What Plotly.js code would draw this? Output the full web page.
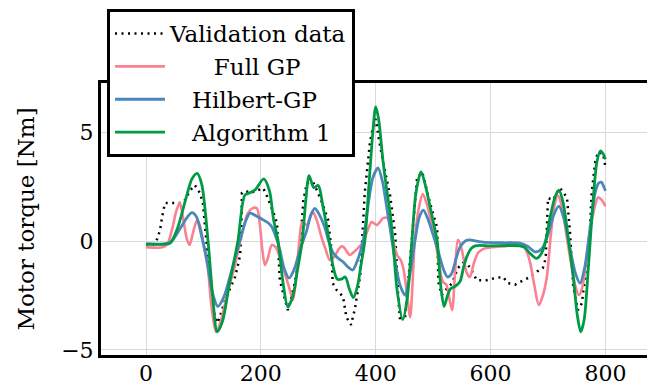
<!DOCTYPE html>
<html>
<head>
<meta charset="utf-8">
<script src="https://cdn.plot.ly/plotly-3.0.1.min.js"></script>
<style>html,body{margin:0;padding:0;background:#fff;overflow:hidden;}#chart{width:647px;height:389px;}</style>
</head>
<body>
<div id="chart"></div>
<script>
const seriesNames = ["Validation data", "Full GP", "Hilbert-GP", "Algorithm 1"];
const xTicks = [0, 200, 400, 600, 800];
const yTicks = [-5, 0, 5];

const valX = [0,15,21,25,28,33,45,55,62,68,77,85,94,99,102,106,111,116,120,125,132,138,146,155,162,164,166,167,174,181,192,204,210,216,222,228,230,233,239,247,253,259,268,271,274,280,291,298,306,317,320,323,325,332,343,349,357,364,373,377,381,386,390,395,400,406,413,425,434,439,442,451,457,463,468,472,481,494,507,509,515,520,524,533,543,552,558,564,576,593,608,622,630,643,657,669,681,691,696,698,700,709,715,721,733,738,742,744,752,759,764,770,773,776,782,787,796,800];
const valY = [-0.15,-0.15,0.18,0.6,1.1,1.74,1.74,1.74,1.74,1.88,2.33,2.57,2.2,1.74,0.8,-0.1,-1.65,-2.7,-3.5,-3.76,-3.2,-2.7,-2.2,-1.65,-0.9,-0.55,0.5,2.2,2.3,2.2,2.3,2.43,2.1,1.74,1.3,0.83,-0.41,-1.8,-2.4,-3.17,-2.6,-1.93,-0.41,0.7,1.88,2.65,2.7,2.3,1.8,0.97,0.3,-0.41,-1.93,-2.25,-2.55,-3.5,-3.85,-3.08,-1.56,0.3,2.25,3.5,4.55,5.18,5.6,4.6,3.6,2.1,0.28,-2.48,-3.53,-3.53,-1.8,0.0,1.6,2.9,3.17,1.8,0.6,-1.88,-2.48,-2.3,-2.17,-1.93,-1.24,-1.0,-1.05,-1.2,-1.8,-1.8,-1.7,-1.65,-1.93,-2.0,-1.8,-1.65,-1.4,-1.24,-0.8,0.3,1.97,1.88,2.2,2.43,2.0,0.5,-1.0,-2.1,-3.17,-2.85,-1.8,-0.3,0.5,2.2,3.58,4.08,4.0,3.4];

const fullX = [0,30,38,46,53,59,65,71,76,82,89,95,101,108,114,122,130,143,154,164,170,176,185,193,198,203,207,212,219,226,235,243,250,256,262,267,272,280,286,291,298,306,313,320,327,335,340,345,350,355,362,370,378,386,393,402,408,413,421,428,437,444,448,454,460,464,468,475,482,490,497,503,510,517,523,528,533,538,543,548,553,559,564,571,578,586,593,620,656,663,669,676,684,691,698,705,711,717,724,732,740,748,754,760,767,773,780,787,793,800];
const fullY = [-0.28,-0.28,-0.1,0.6,1.4,1.74,1.0,0.1,-0.18,0.4,0.96,0.6,-0.3,-1.33,-3.0,-4.17,-3.7,-2.25,-1.2,0.0,0.6,1.2,1.5,1.5,0.8,-0.5,-1.1,-0.8,-0.18,-0.3,-0.9,-1.6,-2.2,-2.7,-1.5,0.0,0.87,0.73,1.1,1.33,0.9,0.14,-0.4,-0.87,-0.75,-0.4,-0.25,-0.3,-0.5,-0.64,-0.5,-0.3,-0.05,0.5,0.87,0.73,0.9,1.05,1.05,0.3,-0.64,-0.9,-1.24,-2.3,-3.5,-2.0,0.0,1.5,2.15,1.6,0.8,0.14,-1.0,-1.88,-2.0,-2.6,-3.17,-1.5,0.05,-0.2,-0.8,-1.5,-1.65,-1.0,-0.55,-0.38,-0.32,-0.25,-0.2,-0.5,-1.0,-2.0,-2.94,-2.5,-1.65,0.3,1.6,2.1,1.6,0.3,-1.0,-2.1,-2.48,-2.1,-0.8,0.5,1.4,2.0,1.9,1.6];

const hilbX = [0,35,45,60,72,80,88,97,106,115,125,135,146,155,164,172,181,192,204,212,219,226,233,241,249,258,268,280,287,294,302,311,318,326,335,343,352,360,368,378,386,395,404,412,420,425,433,442,451,459,468,476,483,491,500,507,512,518,525,532,540,547,556,564,575,587,620,651,665,677,685,692,700,710,719,728,738,748,756,764,772,782,788,793,797,800];
const hilbY = [-0.12,-0.12,0.0,0.6,1.1,1.3,1.1,0.2,-0.87,-2.3,-3.0,-2.6,-1.65,-0.8,0.05,0.8,1.28,1.15,0.97,0.85,0.65,0.2,-0.41,-1.3,-1.7,-1.3,-0.41,0.5,1.2,1.5,1.2,0.65,0.0,-0.55,-0.8,-0.95,-1.2,-1.33,-0.9,0.0,1.5,2.9,3.35,2.7,1.4,0.6,-0.8,-2.0,-2.48,-1.6,-0.05,1.1,1.42,1.0,0.28,-0.3,-0.78,-1.3,-1.65,-1.5,-0.8,-0.27,0.0,0.05,0.0,-0.05,-0.08,-0.1,-0.25,-0.5,-0.45,-0.25,0.3,1.2,1.6,1.0,-0.3,-1.5,-1.93,-1.2,0.3,2.2,2.65,2.7,2.5,2.3];

const algX = [0,30,42,55,70,80,89,97,108,116,124,133,145,160,172,180,190,205,215,222,230,238,247,256,264,272,278,284,292,300,308,319,326,333,340,347,354,361,368,375,381,388,395,400,405,413,420,425,430,437,447,455,463,470,479,487,494,500,507,513,519,525,530,540,547,553,559,566,573,600,651,660,668,680,688,695,703,712,719,726,735,744,751,757,763,770,779,785,791,796,800];
const algY = [-0.15,-0.15,-0.1,0.6,2.0,2.85,3.1,2.6,0.0,-2.5,-4.17,-3.7,-2.0,0.0,2.1,2.2,2.35,2.85,2.3,1.0,0.0,-1.8,-3.03,-2.5,-1.3,0.0,1.8,3.0,2.45,2.55,1.6,0.0,-1.2,-1.75,-1.75,-1.65,-2.2,-2.6,-2.1,-1.0,0.0,2.5,5.0,6.15,5.6,3.6,2.2,1.3,0.0,-2.2,-3.6,-2.6,0.0,2.2,3.17,2.5,1.65,0.9,0.0,-2.0,-3.0,-2.5,-2.2,-2.05,-1.85,-1.2,-0.7,-0.35,-0.22,-0.22,-0.22,-0.3,-0.55,-0.8,-0.6,-0.1,1.0,2.0,2.33,1.8,0.2,-1.65,-3.4,-4.17,-3.6,-1.33,2.0,3.6,4.13,4.0,3.75];

const colors = ["#000000", "#fb8190", "#4a87ba", "#009a44"];
const serif = "DejaVu Serif, serif";
const NB = "\u00a0";
// leading non-breaking spaces approximate the centred legend labels of the original
const legendPad = [0, 6, 3, 3];

const series = [[valX, valY], [fullX, fullY], [hilbX, hilbY], [algX, algY]];
const lineStyles = [
  {color: colors[0], width: 2.5, dash: "2px,4.5px"},
  {color: colors[1], width: 2.6, shape: "spline", smoothing: 0.8},
  {color: colors[2], width: 2.8, shape: "spline", smoothing: 0.8},
  {color: colors[3], width: 2.8, shape: "spline", smoothing: 0.8}
];
const traces = series.map((s, i) => ({
  x: s[0], y: s[1], mode: "lines",
  name: NB.repeat(legendPad[i]) + seriesNames[i],
  legendgroup: "g" + i,
  line: lineStyles[i]
}));

const layout = {
  width: 647, height: 389,
  margin: {l: 101, r: 0, t: 83, b: 34, pad: 0},
  paper_bgcolor: "#fff", plot_bgcolor: "#fff",
  showlegend: true,
  font: {family: serif, color: "#000", size: 22},
  xaxis: {
    range: [-78.4, 872.4], tickvals: xTicks, ticktext: xTicks.map(String),
    showgrid: true, gridcolor: "#d9d9d9", gridwidth: 1, zeroline: false,
    showline: true, linecolor: "#000", linewidth: 3, mirror: true,
    ticks: "", ticklabelstandoff: -3, tickfont: {family: serif, size: 22, color: "#000"}, automargin: false
  },
  yaxis: {
    range: [-5.23, 7.25], tickvals: yTicks, ticktext: yTicks.map(v => v < 0 ? "\u2212" + Math.abs(v) : String(v)),
    showgrid: true, gridcolor: "#d9d9d9", gridwidth: 1, zeroline: false,
    showline: true, linecolor: "#000", linewidth: 3, mirror: false,
    ticks: "", tickfont: {family: serif, size: 22, color: "#000"}, automargin: false,
    title: {text: "Motor torque [Nm]", font: {family: serif, size: 23, color: "#000"}, standoff: 21}
  },
  legend: {
    x: 0.011, y: 1.272, xanchor: "left", yanchor: "top",
    bgcolor: "#fff", bordercolor: "#000", borderwidth: 3,
    font: {family: serif, size: 23, color: "#000"},
    itemwidth: 50, tracegroupgap: 1, traceorder: "normal"
  }
};

Plotly.newPlot("chart", traces, layout, {displayModeBar: false, staticPlot: true});
</script>
</body>
</html>
